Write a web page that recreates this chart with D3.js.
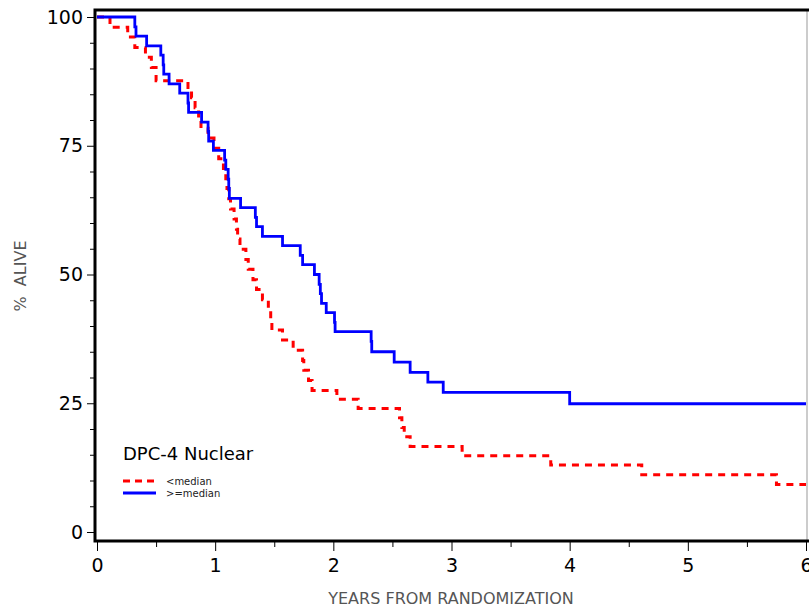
<!DOCTYPE html>
<html>
<head>
<meta charset="utf-8">
<script src="https://cdn.jsdelivr.net/npm/d3@7"></script>
<style>
  body { margin: 0; background: #fff; }
  svg { display: block; font-family: "DejaVu Sans", sans-serif; }
  .axis-title { font-size: 16px; fill: #555; }
</style>
</head>
<body>
<svg id="chart"></svg>
<script>
  //begin: data
  var lowTimes = [0, 0.11, 0.26, 0.32, 0.41, 0.46, 0.50, 0.77, 0.80, 0.83, 0.86, 0.88, 0.94, 0.99,
                  1.03, 1.07, 1.09, 1.10, 1.115, 1.13, 1.16, 1.18, 1.19, 1.21, 1.26, 1.28, 1.32,
                  1.35, 1.40, 1.45, 1.47, 1.48, 1.57, 1.66, 1.74, 1.75, 1.79, 1.82, 2.03, 2.21,
                  2.56, 2.58, 2.60, 2.65, 3.09, 3.84, 4.61, 5.75, 6.0];
  var lowSurv  = [100, 98.0, 96.1, 94.1, 92.2, 90.2, 87.6, 86.3, 84.3, 82.4, 80.4, 78.4, 76.5, 74.5,
                  72.5, 70.6, 68.6, 66.7, 64.7, 62.7, 60.8, 58.8, 56.9, 54.9, 52.9, 51.0, 49.0,
                  47.1, 45.1, 43.1, 41.2, 39.2, 37.3, 35.3, 33.3, 31.4, 29.4, 27.5, 25.8, 24.0,
                  22.2, 20.3, 18.5, 16.6, 14.8, 13.0, 11.1, 9.2, 9.2];

  var highTimes = [0, 0.32, 0.33, 0.42, 0.54, 0.56, 0.565, 0.61, 0.70, 0.77, 0.775, 0.885, 0.94, 0.945,
                   0.985, 1.08, 1.09, 1.11, 1.115, 1.12, 1.215, 1.34, 1.35, 1.40, 1.57, 1.72, 1.74,
                   1.84, 1.88, 1.89, 1.90, 1.94, 2.01, 2.015, 2.32, 2.325, 2.515, 2.65, 2.80, 2.93,
                   4.00, 6.0];
  var highSurv  = [100, 98.1, 96.3, 94.4, 92.6, 90.7, 88.9, 87.0, 85.2, 83.3, 81.5, 79.6, 77.8, 75.9,
                   74.1, 72.2, 70.4, 68.5, 66.7, 64.8, 63.0, 61.1, 59.3, 57.4, 55.6, 53.7, 51.9,
                   50.0, 48.1, 46.3, 44.4, 42.6, 40.7, 38.9, 37.0, 35.0, 33.0, 31.0, 29.1, 27.1,
                   24.9, 24.9];

  var groupNames = ["<median", ">=median"];
  var xTicks = [0, 1, 2, 3, 4, 5, 6];
  var yTicks = [0, 25, 50, 75, 100];
  //end: data

  //begin: layout conf.
  var svgWidth = 809,
      svgHeight = 607,
      frame = {left: 95, top: 10, right: 807, bottom: 541};

  var x = d3.scaleLinear().domain([0, 6]).range([97, 806]);
  var y = d3.scaleLinear().domain([0, 100]).range([532, 17]);
  //end: layout conf.

  var svg = d3.select("#chart")
    .attr("width", svgWidth)
    .attr("height", svgHeight);

  var groups = [
    {name: groupNames[0], times: lowTimes, surv: lowSurv, color: "#ff0000", dash: "7,6", width: 3},
    {name: groupNames[1], times: highTimes, surv: highSurv, color: "#0000ff", dash: null, width: 2.8}
  ];

  var line = d3.line()
    .x(function(d){ return x(d[0]); })
    .y(function(d){ return y(d[1]); })
    .curve(d3.curveStepAfter);

  // curves
  svg.append("g")
    .selectAll("path")
    .data(groups)
    .enter().append("path")
      .attr("fill", "none")
      .attr("stroke", function(d){ return d.color; })
      .attr("stroke-width", function(d){ return d.width; })
      .attr("stroke-dasharray", function(d){ return d.dash; })
      .attr("d", function(d){ return line(d3.zip(d.times, d.surv)); });

  // frame
  svg.append("line")
    .attr("x1", frame.right).attr("x2", frame.right)
    .attr("y1", frame.top).attr("y2", frame.bottom)
    .attr("stroke", "#999").attr("stroke-width", 1);
  svg.append("path")
    .attr("fill", "none")
    .attr("stroke", "#000")
    .attr("stroke-width", 3)
    .attr("d", "M" + [svgWidth + 2, frame.top] + "L" + [frame.left, frame.top] +
               "L" + [frame.left, frame.bottom] + "L" + [svgWidth + 2, frame.bottom]);

  //begin: axes
  var xAxis = d3.axisBottom(x)
    .tickValues(d3.range(0, 6.01, 0.5))
    .tickSize(8)
    .tickFormat(function(d){ return xTicks.indexOf(d) >= 0 ? d : ""; });

  var xg = svg.append("g")
    .attr("transform", "translate(0," + (frame.bottom + 1) + ")")
    .call(xAxis);
  xg.select(".domain").remove();
  xg.selectAll(".tick line")
    .attr("stroke", "#000")
    .attr("y2", function(d){ return xTicks.indexOf(d) >= 0 ? 9 : 5; });
  xg.selectAll(".tick text")
    .attr("y", 17)
    .attr("dy", "0.71em")
    .attr("fill", "#000")
    .style("font-family", "DejaVu Sans")
    .style("font-size", "19px");

  var yAxis = d3.axisLeft(y)
    .tickValues(d3.range(0, 100.1, 5))
    .tickSize(7)
    .tickFormat(function(d){ return yTicks.indexOf(d) >= 0 ? d : ""; });

  var yg = svg.append("g")
    .attr("transform", "translate(" + (frame.left - 1) + ",0)")
    .call(yAxis);
  yg.select(".domain").remove();
  yg.selectAll(".tick line")
    .attr("stroke", "#000")
    .attr("x2", function(d){ return yTicks.indexOf(d) >= 0 ? -7 : -4; });
  yg.selectAll(".tick text")
    .attr("x", -11)
    .attr("fill", "#000")
    .style("font-family", "DejaVu Sans")
    .style("font-size", "19px");

  svg.append("text")
    .attr("class", "axis-title")
    .attr("text-anchor", "middle")
    .attr("xml:space", "preserve")
    .style("white-space", "pre")
    .attr("transform", "translate(" + [26, 276] + ") rotate(-90)")
    .text("%  ALIVE");

  svg.append("text")
    .attr("class", "axis-title")
    .attr("text-anchor", "middle")
    .attr("x", 451)
    .attr("y", 604)
    .text("YEARS FROM RANDOMIZATION");
  //end: axes

  //begin: legend
  var legend = svg.append("g")
    .attr("transform", "translate(" + [123, 0] + ")");

  legend.append("text")
    .attr("y", 460)
    .style("font-size", "18px")
    .text("DPC-4 Nuclear");

  var entry = legend.selectAll(".entry")
    .data(groups)
    .enter().append("g")
      .attr("class", "entry")
      .attr("transform", function(d, i){ return "translate(" + [0, 481 + i * 12] + ")"; });

  entry.append("line")
    .attr("x1", 0).attr("x2", 33)
    .attr("stroke", function(d){ return d.color; })
    .attr("stroke-width", 3)
    .attr("stroke-dasharray", function(d){ return d.dash ? "7,5" : null; });

  entry.append("text")
    .attr("x", 43)
    .attr("dy", "0.35em")
    .style("font-size", "10px")
    .style("fill", "#222")
    .text(function(d){ return d.name; });
  //end: legend
</script>
</body>
</html>
